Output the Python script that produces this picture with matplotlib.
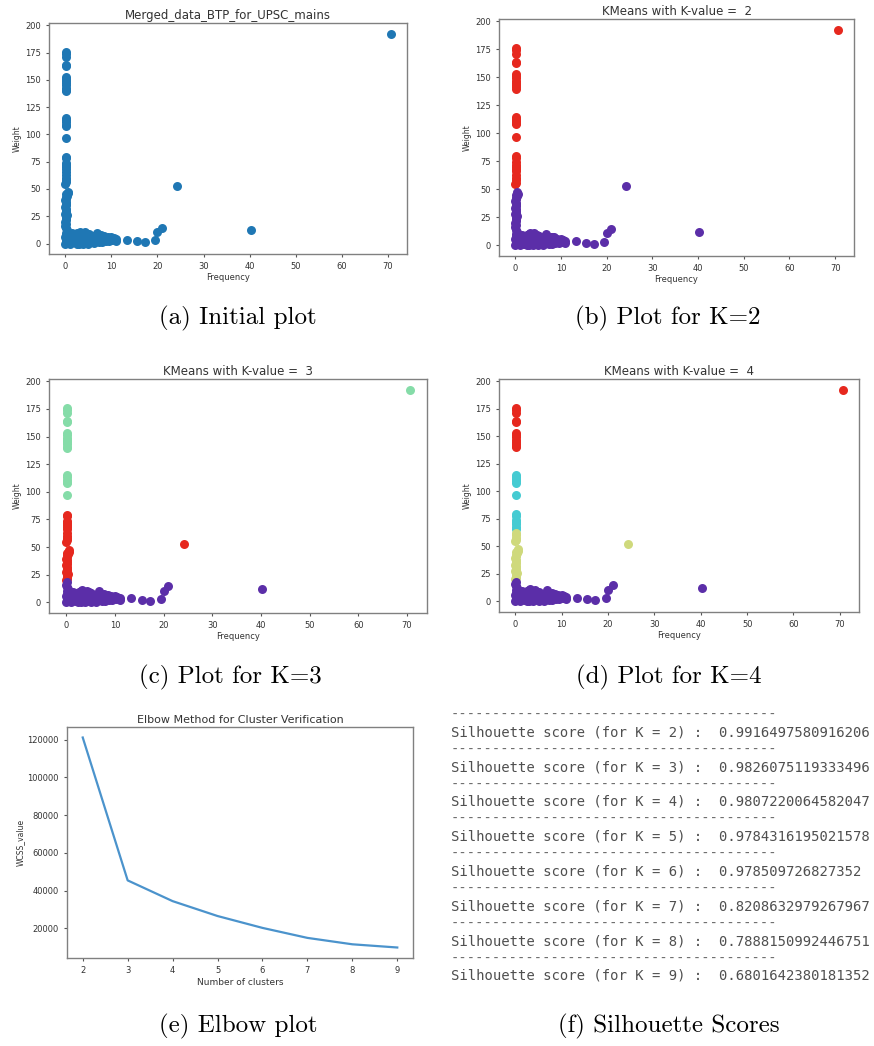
import matplotlib
matplotlib.use("Agg")
import matplotlib.pyplot as plt

# ---- scatter data, grouped by vertical segment (freq, weight) ----
# A: top of the freq~0 column plus the far outlier
A_FREQ = [0.1, 0.2, 0.2, 0.1, 0.2, 0.1, 0.2, 0.1, 0.2, 0.1, 0.2, 0.1, 0.2, 70.6]
A_WEIGHT = [176, 174, 171, 164, 163, 153, 151, 149, 147, 145, 143, 141, 140, 192.5]
# B: 97-115
B_FREQ = [0.1, 0.2, 0.1, 0.2, 0.1, 0.1]
B_WEIGHT = [115, 113, 111, 109, 108, 97]
# C: 65-80
C_FREQ = [0.1, 0.2, 0.1, 0.2, 0.1, 0.2, 0.1]
C_WEIGHT = [79.5, 78, 74, 72, 70, 68, 66]
# D: 55-63
D_FREQ = [0.2, 0.1, 0.2, 0.1, 0.0]
D_WEIGHT = [62.5, 60, 58, 56, 54.5]
# E: 20-47 column plus (24, 52)
E_FREQ = [0.0, 0.1, 0.2, 0.1, 0.3, 0.0, 0.2, 0.1, 0.2, 0.0, 0.1, 0.2,
          0.1, 0.0, 0.2, 0.1, 0.3, 0.6, 0.5, 0.2, 24.2]
E_WEIGHT = [20, 21.5, 23, 24.5, 26, 27.5, 29, 30.5, 32, 33.5, 35, 36.5,
            38, 39.5, 41, 42.5, 44, 46, 47.5, 45, 52.5]
# F: base band (weight < 20)
F_FREQ = [0.0, 0.1, 0.2, 0.0, 0.1, 0.2, 0.3, 0.1, 0.0, 0.2,
          0.5, 0.5, 0.5, 1, 1, 1, 1.5, 1.5, 1.5, 2, 2, 2, 2.5, 2.5, 2.5,
          3, 3, 3, 3.2, 3.5, 3.5, 3.8, 4, 4, 4, 4.5, 4.5, 5, 5, 5, 5.5, 5.5,
          6, 6, 6.8, 7, 7, 7.5, 8, 8, 8.5, 8.5, 9, 10, 10.5, 11, 11,
          0.7, 0.8, 1.2, 1.8, 2.2, 2.8, 3.0, 3.4, 3.7, 4.2, 4.3, 4.8, 5.2,
          5.8, 6.3, 6.5, 7.2, 7.8, 8.2, 9.2, 9.5, 10.2, 1.2, 2.2, 3.8, 5.3,
          6.2, 0.8, 1.7, 4.7, 7.3, 8.8, 0.4, 0.6, 1.4, 2.6, 3.1, 4.0, 5.6,
          13.4, 15.5, 17.2, 19.5, 20.0, 21.0, 40.2]
F_WEIGHT = [0, 2, 4, 6, 8, 10, 12, 14, 16, 18,
            1, 5, 8, 0, 4, 7, 2, 6, 8, 1, 4, 8, 0, 3, 7,
            2, 6, 10, 11, 4, 9, 7, 1, 5, 9, 3, 7, 0, 4, 8, 2, 6,
            1, 4, 10, 2, 6, 3, 1, 7, 4, 7, 3, 6, 5, 2, 4,
            3, 9, 8.5, 8.5, 5.5, 9, 0, 8, 2, 10.5, 3, 5.5, 8.5,
            4, 7, 2, 5, 7.5, 3, 6, 2, 3, 1, 2, 0, 1,
            0.5, 6, 4.5, 9, 1, 2, 10, 2, 9.5, 9.5, 4, 7, 6.5,
            3.5, 2, 1, 3, 10.5, 14.5, 12]

SEGMENTS = {"A": (A_FREQ, A_WEIGHT), "B": (B_FREQ, B_WEIGHT),
            "C": (C_FREQ, C_WEIGHT), "D": (D_FREQ, D_WEIGHT),
            "E": (E_FREQ, E_WEIGHT), "F": (F_FREQ, F_WEIGHT)}

PURPLE, RED, GREEN, CYAN, YELLOW = "#5b2ea8", "#e6281e", "#85dca8", "#45cbd2", "#cfd97c"
BLUE = "#1f77b4"
# cluster colour of each segment for each K
K_COLORS = {
    2: {"A": RED, "B": RED, "C": RED, "D": RED, "E": PURPLE, "F": PURPLE},
    3: {"A": GREEN, "B": GREEN, "C": RED, "D": RED, "E": RED, "F": PURPLE},
    4: {"A": RED, "B": CYAN, "C": CYAN, "D": YELLOW, "E": YELLOW, "F": PURPLE},
}

# ---- elbow data ----
N_CLUSTERS = [2, 3, 4, 5, 6, 7, 8, 9]
WCSS = [121200, 45400, 34400, 26500, 20200, 14900, 11500, 9800]

# ---- silhouette scores ----
SIL_K = [2, 3, 4, 5, 6, 7, 8, 9]
SIL_SCORE = ["0.9916497580916206", "0.9826075119333496", "0.9807220064582047",
             "0.9784316195021578", "0.978509726827352", "0.8208632979267967",
             "0.7888150992446751", "0.6801642380181352"]

CAPTIONS = ["(a) Initial plot", "(b) Plot for K=2", "(c) Plot for K=3",
            "(d) Plot for K=4", "(e) Elbow plot", "(f) Silhouette Scores"]

W, H = 874, 1046
fig = plt.figure(figsize=(W / 100, H / 100), dpi=100)
TXT = "#333333"


def px_axes(l, t, r, b):
    return fig.add_axes([l / W, 1 - b / H, (r - l) / W, (b - t) / H])


def style(ax):
    for s in ax.spines.values():
        s.set_color("#808080")
        s.set_linewidth(1.0)
    ax.tick_params(labelsize=6, colors="#555555", labelcolor=TXT, length=2.5, width=0.8)


def scatter_panel(ax, colors, title):
    for key, (fx, wy) in SEGMENTS.items():
        ax.scatter(fx, wy, s=42, color=colors[key] if colors else BLUE, linewidths=0)
    ax.set_title(title, fontsize=8.5, color=TXT, pad=3)
    ax.set_xlabel("Frequency", fontsize=6, color=TXT, labelpad=1)
    ax.set_ylabel("Weight", fontsize=5.5, color=TXT, labelpad=2)
    ax.set_xticks(range(0, 80, 10))
    ax.set_yticks(range(0, 225, 25))
    style(ax)


ax_a = px_axes(49, 23, 407, 254)
scatter_panel(ax_a, None, "Merged_data_BTP_for_UPSC_mains")
ax_b = px_axes(499, 19, 854, 256)
scatter_panel(ax_b, K_COLORS[2], "KMeans with K-value =  2")
ax_c = px_axes(49, 379, 427, 613)
scatter_panel(ax_c, K_COLORS[3], "KMeans with K-value =  3")
ax_d = px_axes(499, 379, 859, 612)
scatter_panel(ax_d, K_COLORS[4], "KMeans with K-value =  4")

ax_e = px_axes(67, 727, 413, 958)
ax_e.plot(N_CLUSTERS, WCSS, color="#4b93cc", lw=1.6)
ax_e.set_title("Elbow Method for Cluster Verification", fontsize=8, color=TXT, pad=3)
ax_e.set_xlabel("Number of clusters", fontsize=6.5, color=TXT, labelpad=2)
ax_e.set_ylabel("WCSS_value", fontsize=5.5, color=TXT, labelpad=2)
ax_e.set_yticks(range(20000, 140000, 20000))
style(ax_e)

# silhouette text block: rows at y = 1..8, dashes between
ax_f = px_axes(451, 697.5, 874, 1010.7)
ax_f.set_xlim(0, 1)
ax_f.set_ylim(9, 0)
ax_f.axis("off")
for i, (k, sc) in enumerate(zip(SIL_K, SIL_SCORE)):
    ax_f.text(0, i + 0.5, "-" * 39, family="DejaVu Sans Mono", fontsize=10,
              color="#6a6a6a", va="center", ha="left")
    ax_f.text(0, i + 1, f"Silhouette score (for K = {k}) :  {sc}",
              family="DejaVu Sans Mono", fontsize=10, color="#4f4f4f",
              va="center", ha="left")

CAP_POS = [(238, 318), (668, 318), (230, 677), (669, 677), (238, 1026), (669, 1026)]
for cap, (cx, cy) in zip(CAPTIONS, CAP_POS):
    fig.text(cx / W, 1 - cy / H, cap, family="cmr10", fontsize=18,
             ha="center", va="center", color="black")

fig.savefig("out.png", dpi=100)
